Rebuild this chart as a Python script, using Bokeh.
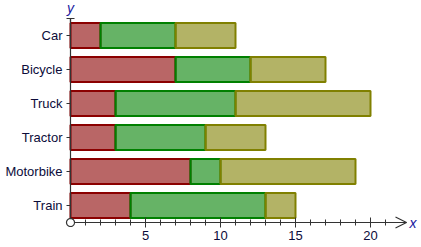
import numpy as np
from bokeh.plotting import figure
from bokeh.models import (Range1d, FixedTicker, Arrow, OpenHead, TeeHead, Label,
                          PolyAnnotation, ColumnDataSource)
from bokeh.embed import file_html
from bokeh.resources import INLINE

categories = ["Car", "Bicycle", "Truck", "Tractor", "Motorbike", "Train"]
red = [2, 7, 3, 3, 8, 4]
green = [5, 5, 8, 6, 2, 9]
olive = [4, 5, 9, 4, 9, 2]
x_major = [5, 10, 15, 20]

W, H = 421, 247
X0, Y0 = 70, 222          # pixel position of the origin
px_x = 15.0               # pixels per x unit
px_y = 34.0               # pixels per category

n = len(categories)
ypos = [n - i - 0.5 for i in range(n)]

x_start = -X0 / px_x
x_end = (W - X0) / px_x
y_start = -(H - Y0) / px_y
y_end = Y0 / px_y
x_axis_end = 22.4

p = figure(width=W, height=H, output_backend="svg", toolbar_location=None,
           x_range=Range1d(x_start, x_end), y_range=Range1d(y_start, y_end),
           min_border=0)
p.outline_line_color = None
p.grid.visible = False
p.background_fill_color = "white"
p.border_fill_color = "white"

r = np.array(red, float)
g = np.array(green, float)
o = np.array(olive, float)
src = ColumnDataSource(dict(y=ypos, r0=np.zeros(n), r1=r, g1=r + g, o1=r + g + o))

h = 0.74
p.hbar(y="y", left="r0", right="r1", height=h, source=src,
       fill_color="darkred", fill_alpha=0.6, line_color="darkred", line_width=2)
p.hbar(y="y", left="r1", right="g1", height=h, source=src,
       fill_color="green", fill_alpha=0.6, line_color="green", line_width=2)
p.hbar(y="y", left="g1", right="o1", height=h, source=src,
       fill_color="olive", fill_alpha=0.6, line_color="olive", line_width=2)

txt = "#0c0c3a"
axc = "#333333"
font = "Liberation Sans"

xa = p.xaxis[0]
xa.fixed_location = 0
xa.ticker = FixedTicker(ticks=x_major, minor_ticks=[v for v in range(1, 22) if v % 5])
xa.bounds = (0, x_axis_end)
xa.axis_line_color = axc
xa.axis_line_width = 1.2
xa.major_tick_in = 5
xa.major_tick_out = 5
xa.minor_tick_in = 3
xa.minor_tick_out = 3
xa.major_tick_line_color = axc
xa.minor_tick_line_color = axc
xa.major_label_text_font = font
xa.major_label_text_font_size = "13px"
xa.major_label_text_color = txt
xa.major_label_standoff = 3

ya = p.yaxis[0]
ya.fixed_location = 0
ya.ticker = FixedTicker(ticks=ypos, minor_ticks=[])
ya.major_label_overrides = {v: c for v, c in zip(ypos, categories)}
ya.bounds = (0, n)
ya.axis_line_color = axc
ya.axis_line_width = 1.2
ya.major_tick_in = 0
ya.major_tick_out = 4
ya.major_tick_line_color = axc
ya.major_label_text_font = font
ya.major_label_text_font_size = "13px"
ya.major_label_text_color = txt
ya.major_label_standoff = 4

# arrow head on x axis
p.add_layout(Arrow(x_start=x_axis_end - 0.6, y_start=0, x_end=x_axis_end, y_end=0,
                   line_color=axc, line_width=1.2,
                   end=OpenHead(size=11, line_color=axc, line_width=1.2)))
# cap on top of y axis
p.add_layout(Arrow(x_start=0, y_start=n - 0.1, x_end=0, y_end=n,
                   line_color=axc, line_width=1.2,
                   end=TeeHead(size=8, line_color=axc, line_width=1.2)))
# origin circle
t = np.linspace(0, 2 * np.pi, 40)
p.add_layout(PolyAnnotation(xs=list(4 / px_x * np.cos(t)), ys=list(4 / px_y * np.sin(t)),
                            fill_color="white", fill_alpha=1.0,
                            line_color=axc, line_alpha=1.0, line_width=1.2))

p.add_layout(Label(x=x_axis_end + 0.2, y=0, text="x", text_align="left",
                   text_baseline="middle", text_font=font, text_font_style="italic",
                   text_font_size="14px", text_color="#1a1aa0"))
p.add_layout(Label(x=0, y=n + 0.3, text="y", text_align="center",
                   text_baseline="middle", text_font=font, text_font_style="italic",
                   text_font_size="14px", text_color="#1a1aa0"))

open("out.html", "w").write(file_html(p, INLINE))
